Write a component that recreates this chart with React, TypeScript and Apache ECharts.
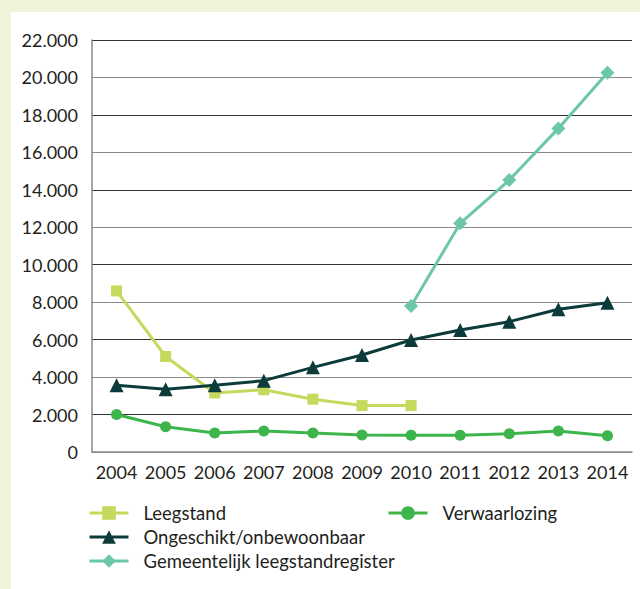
import React, { useEffect, useRef } from "react";
import * as echarts from "echarts";

const years = ["2004", "2005", "2006", "2007", "2008", "2009", "2010", "2011", "2012", "2013", "2014"];
const leegstand = [8600, 5100, 3150, 3320, 2820, 2480, 2480, null, null, null, null];
const verwaarlozing = [2000, 1350, 1020, 1120, 1020, 910, 900, 900, 980, 1120, 870];
const ongeschikt = [3560, 3350, 3560, 3810, 4520, 5180, 5980, 6515, 6960, 7620, 7970];
const gemeentelijk = [null, null, null, null, null, null, 7800, 12210, 14520, 17280, 20250];

const FONT = "Lato, 'Open Sans', sans-serif";
const TXT = "#231F20";

export default function App() {
  const ref = useRef<HTMLDivElement>(null);
  useEffect(() => {
    const chart = echarts.init(ref.current!, null, { renderer: "svg" });
    const line = (name: string, data: any[], color: string, symbol: string, size: number, z: number) => ({
      name,
      type: "line",
      data,
      symbol,
      symbolSize: size,
      z,
      lineStyle: { color, width: 3 },
      itemStyle: { color },
      connectNulls: false,
    });
    const legendText = { fontFamily: FONT, fontSize: 18.5, color: TXT, lineHeight: 20, padding: [0, 0, 0, 10] };
    const legendBase = {
      orient: "vertical",
      top: 491,
      padding: 0,
      itemWidth: 39,
      itemHeight: 17,
      itemGap: 4,
      textStyle: legendText,
      lineStyle: { width: 3 },
      selectedMode: false,
    };
    chart.setOption({
      animation: false,
      textStyle: { fontFamily: FONT },
      grid: { left: 81, right: 8, top: 28, bottom: 137 },
      legend: [
        {
          ...legendBase,
          data: ["Leegstand", "Ongeschikt/onbewoonbaar", "Gemeentelijk leegstandregister"],
          left: 77,
        },
        {
          ...legendBase,
          data: ["Verwaarlozing"],
          left: 376,
        },
      ],
      xAxis: {
        type: "category",
        data: years,
        boundaryGap: true,
        axisLine: { lineStyle: { color: "#8a8a8a", width: 1.5 } },
        axisTick: { inside: true, length: 8, lineStyle: { color: "#8a8a8a", width: 1.5 } },
        axisLabel: { fontFamily: FONT, fontSize: 18, color: TXT, margin: 11, interval: 0 },
      },
      yAxis: {
        type: "value",
        min: 0,
        max: 22000,
        interval: 2000,
        axisLine: { show: true, lineStyle: { color: "#8a8a8a", width: 1.5 } },
        axisTick: { show: false },
        splitLine: { lineStyle: { color: ["#8a8a8a", "#333333"], width: 1.2 } },
        axisLabel: {
          fontFamily: FONT,
          fontSize: 18,
          color: TXT,
          margin: 14,
          formatter: (v: number) => (v === 0 ? "0" : v.toLocaleString("de-DE")),
        },
      },
      series: [
        line("Leegstand", leegstand, "#C5D95C", "rect", 11, 2),
        line("Verwaarlozing", verwaarlozing, "#3DB54A", "circle", 11, 3),
        line("Ongeschikt/onbewoonbaar", ongeschikt, "#0B3B3A", "triangle", 14, 4),
        line("Gemeentelijk leegstandregister", gemeentelijk, "#6CC7A8", "diamond", 14, 5),
      ],
    });
    return () => chart.dispose();
  }, []);
  return (
    <div style={{ position: "fixed", left: 0, top: 0, width: 640, height: 589, background: "#F0F4DA" }}>
      <div ref={ref} style={{ position: "absolute", left: 11, top: 12, width: 629, height: 577, background: "#fff" }} />
    </div>
  );
}
